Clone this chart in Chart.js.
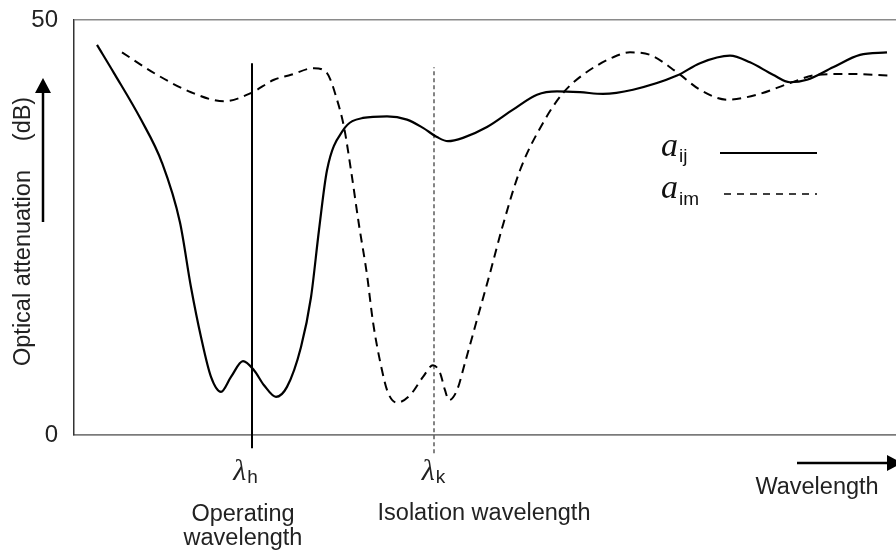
<!DOCTYPE html>
<html>
<head>
<meta charset="utf-8">
<script src="https://cdn.jsdelivr.net/npm/chart.js@4/dist/chart.umd.min.js"></script>
<style>
  html, body { margin: 0; padding: 0; background: #fff; }
  canvas { display: block; }
</style>
</head>
<body>
<canvas id="attenuationChart" width="896" height="552"></canvas>
<script>
// Wavelength axis has no ticks in the original, so x is in arbitrary units (0..822)
const ijWavelength = [23, 40, 67, 88, 106, 117, 127, 137, 147, 157, 169, 180, 190, 202, 213, 227, 237, 245, 253, 269, 289, 313, 333, 349, 363, 374, 389, 413, 439, 463, 483, 506, 529, 559, 603, 626, 656, 676, 699, 716, 733, 759, 786, 813];
const ijAttenuation = [47.0, 43.6, 38.0, 32.8, 25.6, 17.8, 11.8, 7.0, 5.2, 7.0, 8.9, 7.8, 6.0, 4.6, 5.8, 10.6, 16.6, 24.7, 31.9, 36.7, 38.2, 38.4, 38.0, 37.0, 35.9, 35.4, 35.8, 37.1, 39.2, 41.0, 41.4, 41.3, 41.1, 41.6, 43.3, 44.8, 45.7, 44.9, 43.4, 42.5, 42.8, 44.3, 45.8, 46.1];

const imWavelength = [48, 83, 117, 150, 177, 200, 217, 240, 253, 263, 270, 277, 285, 293, 299, 308, 314, 323, 336, 349, 359, 366, 371, 375, 383, 391, 403, 416, 428, 446, 469, 489, 509, 539, 556, 576, 603, 626, 653, 683, 716, 743, 776, 816];
const imAttenuation = [46.1, 43.4, 41.3, 40.2, 41.2, 42.8, 43.4, 44.2, 43.6, 40.4, 37.1, 31.9, 25.3, 19.3, 13.6, 7.8, 5.1, 3.9, 4.8, 7.0, 8.4, 7.5, 5.4, 4.2, 5.4, 8.7, 13.9, 19.5, 24.9, 31.9, 37.6, 41.2, 43.4, 45.5, 46.1, 45.8, 43.7, 41.6, 40.4, 41.0, 42.4, 43.4, 43.5, 43.3];

const yTicks = [0, 50];

// Marker lines for the operating and isolation wavelengths
const operatingWavelength = 178;
const operatingRange = [-1.6, 44.8];
const isolationWavelength = 360;
const isolationRange = [-2.2, 44.3];

const SANS = '"Liberation Sans", Arial, sans-serif';
const SERIF = '"Liberation Serif", "Times New Roman", serif';
const TEXT = "#222";
const LABEL_FONT = "23.5px " + SANS;

function toPoints(xs, ys) {
  return xs.map((x, i) => ({ x: x, y: ys[i] }));
}

function arrow(ctx, x1, y1, x2, y2, head, half) {
  const ang = Math.atan2(y2 - y1, x2 - x1);
  const bx = x2 - head * Math.cos(ang);
  const by = y2 - head * Math.sin(ang);
  ctx.beginPath();
  ctx.moveTo(x1, y1);
  ctx.lineTo(bx, by);
  ctx.stroke();
  ctx.beginPath();
  ctx.moveTo(x2, y2);
  ctx.lineTo(bx + half * Math.sin(ang), by - half * Math.cos(ang));
  ctx.lineTo(bx - half * Math.sin(ang), by + half * Math.cos(ang));
  ctx.closePath();
  ctx.fill();
}

// symbol with a subscript, e.g. a_ij or lambda_h
function subText(ctx, x, y, main, sub, mainFont, subFont, drop, align) {
  ctx.font = mainFont;
  const w1 = ctx.measureText(main).width;
  ctx.font = subFont;
  const w2 = ctx.measureText(sub).width;
  let left = x;
  if (align === "center") left = x - (w1 + w2) / 2;
  ctx.textAlign = "left";
  ctx.textBaseline = "alphabetic";
  ctx.font = mainFont;
  ctx.fillText(main, left, y);
  ctx.font = subFont;
  ctx.fillText(sub, left + w1 + 1, y + drop);
}

const annotations = {
  id: "annotations",
  afterDraw(chart) {
    const ctx = chart.ctx;
    const xs = chart.scales.x;
    ctx.save();
    ctx.fillStyle = "#000";
    ctx.strokeStyle = "#000";

    // y-axis title with arrow
    ctx.save();
    ctx.fillStyle = TEXT;
    ctx.font = LABEL_FONT;
    ctx.textAlign = "center";
    ctx.textBaseline = "alphabetic";
    ctx.translate(30, 0);
    ctx.rotate(-Math.PI / 2);
    ctx.fillText("Optical attenuation", -268, 0);
    ctx.fillText("(dB)", -119, 0);
    ctx.restore();
    ctx.lineWidth = 2.5;
    arrow(ctx, 43, 222, 43, 78, 15, 8);

    // x-axis title with arrow
    ctx.lineWidth = 2.5;
    arrow(ctx, 797, 463, 902, 463, 15, 8);
    ctx.fillStyle = TEXT;
    ctx.font = LABEL_FONT;
    ctx.textAlign = "center";
    ctx.fillText("Wavelength", 817, 494);

    // wavelength labels
    const hx = xs.getPixelForValue(operatingWavelength);
    const kx = xs.getPixelForValue(isolationWavelength);
    subText(ctx, hx - 7, 480, "\u03bb", "h", "italic 30px " + SERIF, "19px " + SANS, 3, "center");
    subText(ctx, kx - 1, 480, "\u03bb", "k", "italic 30px " + SERIF, "19px " + SANS, 3, "center");
    ctx.font = LABEL_FONT;
    ctx.textAlign = "center";
    ctx.fillText("Operating", hx - 9, 521);
    ctx.fillText("wavelength", hx - 9, 545);
    ctx.fillText("Isolation wavelength", kx + 50, 520);

    // legend
    ctx.fillStyle = "#111";
    subText(ctx, 661, 156, "a", "ij", "italic 34px " + SERIF, "19px " + SANS, 6, "left");
    subText(ctx, 661, 198, "a", "im", "italic 34px " + SERIF, "19px " + SANS, 7, "left");
    ctx.lineWidth = 2;
    ctx.beginPath();
    ctx.moveTo(720, 153);
    ctx.lineTo(817, 153);
    ctx.stroke();
    ctx.lineWidth = 1.5;
    ctx.setLineDash([7, 6]);
    ctx.beginPath();
    ctx.moveTo(724, 194);
    ctx.lineTo(817, 194);
    ctx.stroke();
    ctx.restore();
  },
};

new Chart(document.getElementById("attenuationChart"), {
  type: "line",
  data: {
    datasets: [
      {
        label: "aij",
        data: toPoints(ijWavelength, ijAttenuation),
        borderColor: "#000",
        borderWidth: 2.2,
        cubicInterpolationMode: "monotone",
        pointRadius: 0,
        fill: false,
      },
      {
        label: "aim",
        data: toPoints(imWavelength, imAttenuation),
        borderColor: "#000",
        borderWidth: 2,
        borderDash: [9, 6],
        cubicInterpolationMode: "monotone",
        pointRadius: 0,
        fill: false,
      },
      {
        label: "operating",
        data: operatingRange.map((v) => ({ x: operatingWavelength, y: v })),
        borderColor: "#000",
        borderWidth: 2,
        pointRadius: 0,
        clip: false,
      },
      {
        label: "isolation",
        data: isolationRange.map((v) => ({ x: isolationWavelength, y: v })),
        borderColor: "#333",
        borderWidth: 1.2,
        borderDash: [4, 3],
        pointRadius: 0,
        clip: false,
      },
    ],
  },
  options: {
    responsive: false,
    animation: false,
    devicePixelRatio: 1,
    layout: { padding: { top: 20, right: 0, left: 0, bottom: 0 } },
    plugins: {
      legend: { display: false },
      tooltip: { enabled: false },
    },
    scales: {
      x: {
        type: "linear",
        min: 0,
        max: 822,
        ticks: { display: false },
        grid: { display: false },
        border: { display: true, color: "#7a7a7a", width: 1.5 },
        afterFit: (scale) => { scale.height = 117; },
      },
      y: {
        min: 0,
        max: 50,
        afterBuildTicks: (scale) => { scale.ticks = yTicks.map((v) => ({ value: v })); },
        ticks: {
          color: TEXT,
          padding: 16,
          font: { family: SANS, size: 24 },
        },
        grid: { color: "#8a8a8a", lineWidth: 1.5, drawTicks: false },
        border: { display: true, color: "#333", width: 1.5 },
        afterFit: (scale) => {
          scale.width = 74;
          scale.paddingTop = 0;
          scale.paddingBottom = 0;
        },
      },
    },
  },
  plugins: [annotations],
});
</script>
</body>
</html>
